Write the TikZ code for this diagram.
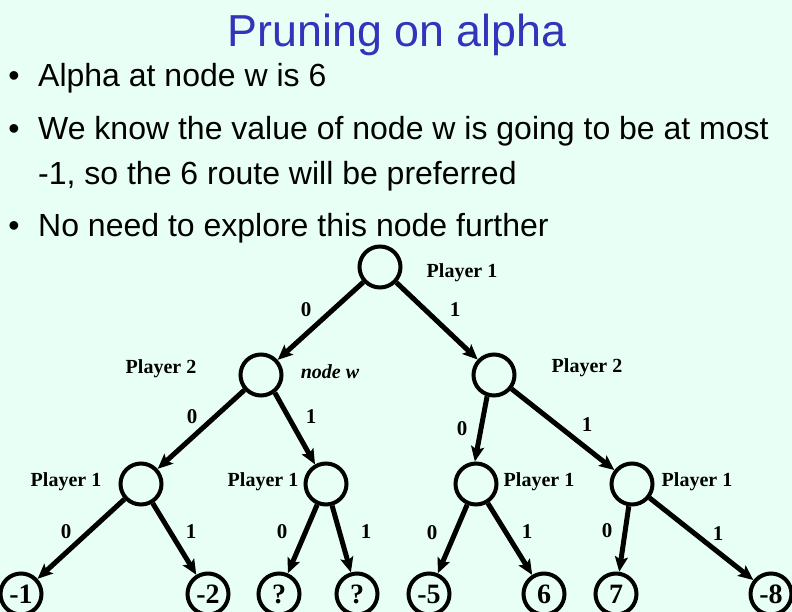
\documentclass[tikz,border=0pt]{standalone}
\usepackage{fontspec}
\setmainfont{Liberation Serif}
\newfontfamily\arialf{Liberation Sans}
\usetikzlibrary{arrows.meta}
\definecolor{bgc}{RGB}{232,255,245}
\definecolor{ttl}{RGB}{51,51,187}
\begin{document}
\begin{tikzpicture}[x=1pt,y=-1pt,
  gnode/.style={circle,draw,line width=4pt,minimum size=41pt,inner sep=0pt},
  leaf/.style={gnode,font=\fontsize{28}{28}\selectfont\bfseries},
  edge/.style={line width=5pt,-{Stealth[length=15pt,width=13pt,inset=3pt]}},
  plab/.style={anchor=base,inner sep=0pt,font=\fontsize{20}{20}\selectfont\bfseries},
  elab/.style={anchor=base,inner sep=0pt,font=\fontsize{21}{21}\selectfont\bfseries},
  btxt/.style={anchor=base west,inner sep=0pt,font=\arialf\fontsize{32}{32}\selectfont},
  bdot/.style={anchor=base,inner sep=0pt,font=\arialf\fontsize{32}{32}\selectfont}
]
\useasboundingbox (0,0) rectangle (792,612);
\clip (0,0) rectangle (792,612);
\fill[bgc] (0,0) rectangle (792,612);

% title and bullets
\node[anchor=base,inner sep=0pt,text=ttl,font=\arialf\fontsize{44.8}{44.8}\selectfont] (title) at (397,47) {Pruning on alpha};
\node[bdot] (b1) at (14,87) {•};
\node[btxt] (t1) at (38,87) {Alpha at node w is 6};
\node[bdot] (b2) at (14,140) {•};
\node[btxt] (t2) at (38,140) {We know the value of node w is going to be at most};
\node[btxt] (t2b) at (38,185) {-1, so the 6 route will be preferred};
\node[bdot] (b3) at (14,237) {•};
\node[btxt] (t3) at (38,237) {No need to explore this node further};

% tree nodes
\node[gnode] (root) at (380,267) {};
\node[gnode] (w) at (261,375) {};
\node[gnode] (p2r) at (494,375) {};
\node[gnode] (a) at (141,484) {};
\node[gnode] (b) at (326,484) {};
\node[gnode] (c) at (476,484) {};
\node[gnode] (d) at (632,484) {};
\node[leaf] (l1) at (21,594) {-1};
\node[leaf] (l2) at (208,594) {-2};
\node[leaf] (l3) at (279,594) {?};
\node[leaf] (l4) at (357,594) {?};
\node[leaf] (l5) at (429,594) {-5};
\node[leaf] (l6) at (544,594) {6};
\node[leaf] (l7) at (616,594) {7};
\node[leaf] (l8) at (771,594) {-8};

% edges
\draw[edge] (root) -- (w);
\draw[edge] (root) -- (p2r);
\draw[edge] (w) -- (a);
\draw[edge] (w.-52) -- (b);
\draw[edge] (p2r.252) -- (c.93);
\draw[edge] (p2r) -- (d);
\draw[edge] (a) -- (l1);
\draw[edge] (a) -- (l2);
\draw[edge] (b) -- (l3);
\draw[edge] (b) -- (l4);
\draw[edge] (c) -- (l5);
\draw[edge] (c) -- (l6);
\draw[edge] (d) -- (l7);
\draw[edge] (d) -- (l8);

% player labels
\node[plab] (pr) at (462,277) {Player 1};
\node[plab] (pw) at (161,373) {Player 2};
\node[plab,font=\fontsize{20}{20}\selectfont\bfseries\itshape] (nw) at (330,378) {node w};
\node[plab] (pp2) at (587,372) {Player 2};
\node[plab] (pa) at (66,486) {Player 1};
\node[plab] (pb) at (263,486) {Player 1};
\node[plab] (pc) at (539,486) {Player 1};
\node[plab] (pd) at (697,486) {Player 1};

% edge labels
\node[elab] (e1) at (306,316) {0};
\node[elab] (e2) at (455,316) {1};
\node[elab] (e3) at (192,423) {0};
\node[elab] (e4) at (311,423) {1};
\node[elab] (e5) at (462,435) {0};
\node[elab] (e6) at (587,431) {1};
\node[elab] (e7) at (66,538) {0};
\node[elab] (e8) at (191,538) {1};
\node[elab] (e9) at (282,538) {0};
\node[elab] (e10) at (366,538) {1};
\node[elab] (e11) at (432,539) {0};
\node[elab] (e12) at (527,538) {1};
\node[elab] (e13) at (607,537) {0};
\node[elab] (e14) at (718,540) {1};
\end{tikzpicture}
\end{document}
